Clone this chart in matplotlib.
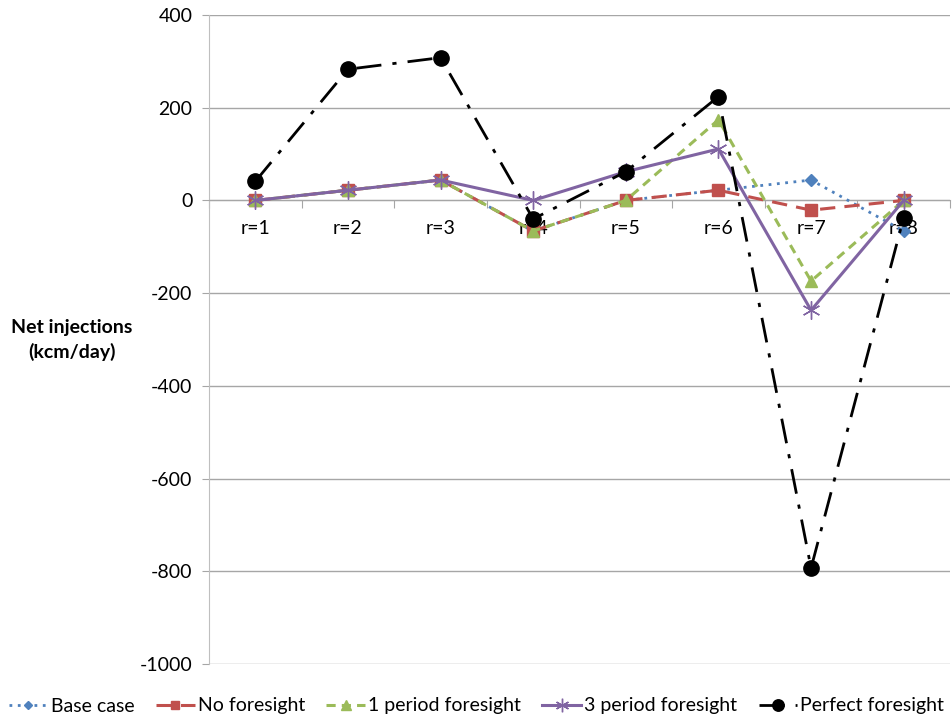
import matplotlib
matplotlib.use("Agg")
import matplotlib.pyplot as plt
import numpy as np

categories = ["r=1", "r=2", "r=3", "r=4", "r=5", "r=6", "r=7", "r=8"]
base_case = [0, 22, 44, -66, 0, 22, 44, -66]
no_foresight = [0, 22, 44, -66, 0, 22, -21, 0]
one_period = [0, 22, 44, -66, 0, 174, -174, 0]
three_period = [0, 22, 44, 0, 62, 111, -237, 0]
perfect = [41, 283, 308, -40, 62, 224, -793, -37]

plt.rcParams['font.family'] = ['Lato', 'DejaVu Sans']
plt.rcParams['axes.unicode_minus'] = False

fig = plt.figure(figsize=(9.53, 7.23), dpi=100)
ax = fig.add_axes([209/953, 1 - 664/723, 741/953, 649/723])

x = np.arange(1, len(categories) + 1)

ax.plot(x, base_case, color="#4F81BD", linestyle=(0, (1, 2)), linewidth=2,
        marker="D", markersize=6, label="Base case", zorder=3)
ax.plot(x, no_foresight, color="#C0504D", linestyle=(0, (5, 3)), linewidth=2.2,
        marker="s", markersize=8, label="No foresight", zorder=4)
ax.plot(x, one_period, color="#9BBB59", linestyle=(0, (3, 2)), linewidth=2.2,
        marker="^", markersize=9, label="1 period foresight", zorder=5)
ax.plot(x, three_period, color="#8064A2", linestyle="-", linewidth=2.2,
        marker=(6, 2, 0), markersize=13, markeredgewidth=1.0,
        label="3 period foresight", zorder=6)
ax.plot(x, perfect, color="black", linestyle=(0, (9, 4, 1.5, 4)), linewidth=2,
        marker="o", markersize=11, label="Perfect foresight", zorder=7)

ax.set_xlim(0.5, len(categories) + 0.5)
ax.set_ylim(-1000, 400)
ax.set_yticks(np.arange(-1000, 401, 200))
ax.yaxis.grid(True, color="#A6A6A6", linewidth=1)
ax.set_axisbelow(True)

for s in ["top", "right"]:
    ax.spines[s].set_visible(False)
ax.spines["left"].set_color("#BFBFBF")
ax.spines["bottom"].set_position(("data", 0))
ax.spines["bottom"].set_color("#A6A6A6")

ax.set_xticks(np.arange(0.5, len(categories) + 1, 1))
ax.set_xticklabels([])
ax.tick_params(axis="x", length=6, color="#A6A6A6", direction="out")
for xi, lab in zip(x, categories):
    ax.text(xi, -42, lab, ha="center", va="top", fontsize=14, zorder=2)

ax.tick_params(axis="y", length=5, color="#A6A6A6", labelsize=14, pad=7)

fig.text(72/953, 1 - 340/723, "Net injections\n(kcm/day)", ha="center",
         va="center", fontsize=14, fontweight="bold", linespacing=1.5)

leg = ax.legend(loc="center left", bbox_to_anchor=(-200/741, -42/649),
                ncol=5, frameon=False, fontsize=14, handlelength=2.0,
                columnspacing=1.1, handletextpad=0.15, borderaxespad=0,
                borderpad=0, markerscale=0.75)

fig.savefig("out.png", dpi=100)
